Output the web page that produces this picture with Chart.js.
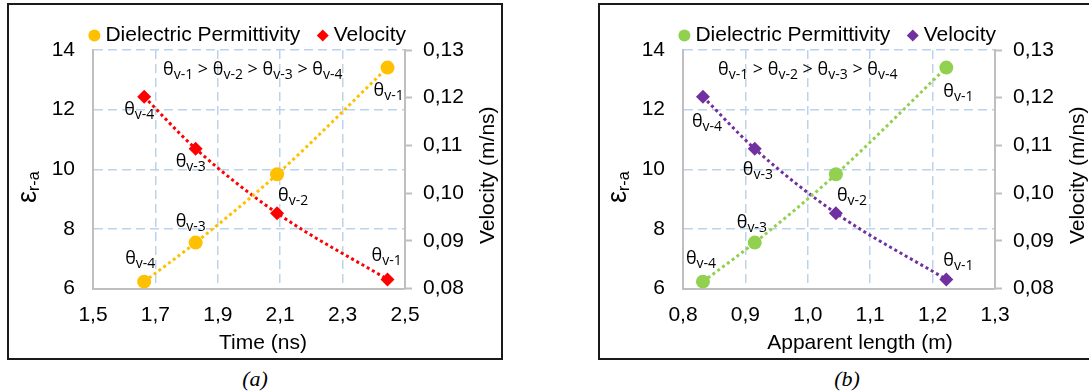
<!DOCTYPE html>
<html>
<head>
<meta charset="utf-8">
<script src="https://cdn.jsdelivr.net/npm/chart.js@4.4.1/dist/chart.umd.min.js"></script>
<style>
  html, body { margin: 0; padding: 0; background: #fff; }
  body { width: 1089px; height: 391px; overflow: hidden; position: relative; }
  .frame { position: absolute; box-sizing: border-box; border: 2px solid #1a1a1a; }
  canvas { position: absolute; }
  .cap { position: absolute; font: italic 22px "Liberation Serif", "DejaVu Serif", serif; color: #000;
         transform: translateX(-50%); white-space: nowrap; }
</style>
</head>
<body>
<div class="frame" style="left:7px;top:3px;width:496px;height:357px"></div>
<div class="frame" style="left:598px;top:3px;width:496px;height:357px"></div>
<canvas id="chartA" width="490" height="354" style="left:10px;top:3px"></canvas>
<canvas id="chartB" width="490" height="354" style="left:600px;top:3px"></canvas>
<div class="cap" style="left:255px;top:366px">(a)</div>
<div class="cap" style="left:847px;top:366px">(b)</div>

<script>
// ---- data (points ordered θv-4, θv-3, θv-2, θv-1) ----
const thetaSubs    = ['v-4', 'v-3', 'v-2', 'v-1'];
const timeNs       = [1.664, 1.829, 2.090, 2.444];
const lengthM      = [0.832, 0.915, 1.045, 1.222];
const permittivity = [6.23, 7.54, 9.83, 13.41];
const velocity     = [0.1202, 0.1093, 0.0958, 0.0819];

// ---- axis ticks ----
const timeTicks      = [1.5, 1.7, 1.9, 2.1, 2.3, 2.5];
const timeTickText   = ['1,5', '1,7', '1,9', '2,1', '2,3', '2,5'];
const lengthTicks    = [0.8, 0.9, 1.0, 1.1, 1.2, 1.3];
const lengthTickText = ['0,8', '0,9', '1,0', '1,1', '1,2', '1,3'];
const epsTicks       = [6, 8, 10, 12, 14];
const epsTickText    = ['6', '8', '10', '12', '14'];
const velTicks       = [0.08, 0.09, 0.10, 0.11, 0.12, 0.13];
const velTickText    = ['0,08', '0,09', '0,10', '0,11', '0,12', '0,13'];

const SANS = '"Liberation Sans", Arial, sans-serif';
const LABEL_FONT = '"Open Sans", "Noto Sans", sans-serif';
const GRID_BLUE = '#bcd3ec';
const AXIS_GRAY = '#bfbfbf';

function drawTheta(ctx, x, y, sub) {
  ctx.font = '18px ' + LABEL_FONT;
  ctx.textAlign = 'left';
  ctx.textBaseline = 'alphabetic';
  ctx.fillText('θ', x, y);
  const w = ctx.measureText('θ').width;
  ctx.font = '14px ' + LABEL_FONT;
  ctx.fillText(sub, x + w, y + 4);
  return x + w + ctx.measureText(sub).width;
}

// text drawn around the plot: point labels, ordering note, axis titles
const annotate = {
  id: 'annotate',
  afterDraw(chart, args, o) {
    const ctx = chart.ctx, a = chart.chartArea;
    ctx.save();
    ctx.fillStyle = '#000';

    o.pointLabels.forEach(pl => {
      const el = chart.getDatasetMeta(pl.ds).data[pl.i];
      drawTheta(ctx, el.x + pl.dx, el.y + pl.dy, thetaSubs[pl.i]);
    });

    // θv-1 > θv-2 > θv-3 > θv-4
    let x = a.left + o.noteDx;
    const y = a.top + 25;
    const order = thetaSubs.slice().reverse();
    order.forEach((s, k) => {
      x = drawTheta(ctx, x, y, s);
      if (k < order.length - 1) {
        ctx.font = '18px ' + LABEL_FONT;
        ctx.fillText(' > ', x, y);
        x += ctx.measureText(' > ').width;
      }
    });

    // bottom title
    ctx.font = '21px ' + SANS;
    ctx.textAlign = 'center';
    ctx.textBaseline = 'middle';
    ctx.fillText(o.xTitle, (a.left + a.right) / 2 + o.xTitleDx, a.bottom + 54.5);

    // left title ε r-a (rotated)
    ctx.save();
    ctx.translate(a.left - 57, a.top + 153);
    ctx.rotate(-Math.PI / 2);
    ctx.textAlign = 'left';
    ctx.textBaseline = 'alphabetic';
    ctx.font = '27px ' + SANS;
    ctx.fillText('ε', 0, 0);
    const ew = ctx.measureText('ε').width;
    ctx.font = '16px ' + SANS;
    ctx.fillText('r-a', ew, 3);
    ctx.restore();

    // right title
    ctx.save();
    ctx.translate(a.right + 83, (a.top + a.bottom) / 2 + 6);
    ctx.rotate(-Math.PI / 2);
    ctx.font = '21px ' + SANS;
    ctx.textAlign = 'center';
    ctx.textBaseline = 'middle';
    ctx.fillText('Velocity (m/ns)', 0, 0);
    ctx.restore();

    ctx.restore();
  }
};

function setTicks(values) {
  return scale => { scale.ticks = values.map(v => ({ value: v })); };
}
function edgeHidden(n) {
  return c => (c.index === 0 || c.index === n - 1) ? 'rgba(0,0,0,0)' : GRID_BLUE;
}

function makeChart(id, cfg) {
  const pts = (xs, ys) => xs.map((v, i) => ({ x: v, y: ys[i] }));
  const lineStyle = {
    showLine: true, borderWidth: 3, borderDash: [3, 3],
    cubicInterpolationMode: 'monotone', pointBorderWidth: 0, pointHoverRadius: 0
  };
  return new Chart(document.getElementById(id), {
    type: 'scatter',
    data: {
      datasets: [
        Object.assign({
          label: 'Dielectric Permittivity', data: pts(cfg.xs, permittivity), yAxisID: 'y',
          borderColor: cfg.epsColor, backgroundColor: cfg.epsColor,
          pointStyle: 'circle', pointRadius: 7
        }, lineStyle),
        Object.assign({
          label: 'Velocity', data: pts(cfg.xs, velocity), yAxisID: 'y1',
          borderColor: cfg.velColor, backgroundColor: cfg.velColor,
          pointStyle: 'rectRot', pointRadius: 7
        }, lineStyle)
      ]
    },
    options: {
      responsive: false, animation: false, devicePixelRatio: 1,
      layout: { padding: { left: 0, right: 10, top: 0, bottom: 0 } },
      plugins: {
        tooltip: { enabled: false },
        legend: {
          position: 'top', align: 'center', maxHeight: 47,
          labels: {
            usePointStyle: true, boxWidth: 1, boxHeight: 8.5, padding: 22,
            color: '#000', font: { family: SANS, size: 21 },
            sort: (p, q) => p.datasetIndex - q.datasetIndex
          }
        },
        annotate: {
          xTitle: cfg.xTitle, xTitleDx: cfg.xTitleDx, noteDx: cfg.noteDx,
          pointLabels: cfg.pointLabels
        }
      },
      scales: {
        x: {
          type: 'linear', position: 'bottom', min: cfg.ticks[0], max: cfg.ticks[cfg.ticks.length - 1],
          afterBuildTicks: setTicks(cfg.ticks),
          afterFit: s => { s.height = 68.5; },
          ticks: { padding: 14, color: '#000', font: { family: SANS, size: 21 },
                   callback: (v, i) => cfg.tickText[i] },
          grid: { color: edgeHidden(cfg.ticks.length), lineWidth: 1.5, drawTicks: false },
          border: { display: true, color: AXIS_GRAY, width: 2, dash: [9, 5] }
        },
        y: {
          position: 'left', min: 6, max: 14,
          afterBuildTicks: setTicks(epsTicks),
          afterFit: s => { s.width = 83; },
          ticks: { padding: 18, color: '#000', font: { family: SANS, size: 21 },
                   callback: (v, i) => epsTickText[i] },
          grid: { color: c => c.index === 0 ? 'rgba(0,0,0,0)' : GRID_BLUE, lineWidth: 1.5, drawTicks: false },
          border: { display: true, color: AXIS_GRAY, width: 2, dash: [9, 5] }
        },
        y1: {
          position: 'right', min: 0.08, max: 0.13,
          afterBuildTicks: setTicks(velTicks),
          afterFit: s => { s.width = 85; },
          ticks: { padding: 11, color: '#000', font: { family: SANS, size: 21 },
                   callback: (v, i) => velTickText[i] },
          grid: { drawOnChartArea: false, drawTicks: true, tickLength: 7,
                  tickColor: AXIS_GRAY, tickWidth: 2, color: AXIS_GRAY },
          border: { display: true, color: AXIS_GRAY, width: 2 }
        }
      }
    },
    plugins: [annotate]
  });
}

makeChart('chartA', {
  xs: timeNs, ticks: timeTicks, tickText: timeTickText,
  epsColor: '#ffc000', velColor: '#ff0000',
  xTitle: 'Time (ns)', xTitleDx: 14, noteDx: 70,
  pointLabels: [
    { ds: 0, i: 0, dx: -19, dy: -18 }, { ds: 0, i: 1, dx: -20, dy: -16 },
    { ds: 0, i: 2, dx: 1, dy: 27 },   { ds: 0, i: 3, dx: -14, dy: 28 },
    { ds: 1, i: 0, dx: -20, dy: 18 }, { ds: 1, i: 1, dx: -20, dy: 18 },
    { ds: 1, i: 3, dx: -16, dy: -18 }
  ]
});

makeChart('chartB', {
  xs: lengthM, ticks: lengthTicks, tickText: lengthTickText,
  epsColor: '#92d050', velColor: '#7030a0',
  xTitle: 'Apparent length (m)', xTitleDx: 21, noteDx: 35,
  pointLabels: [
    { ds: 0, i: 0, dx: -17, dy: -18 }, { ds: 0, i: 1, dx: -18, dy: -15 },
    { ds: 0, i: 2, dx: 1, dy: 27 },   { ds: 0, i: 3, dx: -3, dy: 29 },
    { ds: 1, i: 0, dx: -11, dy: 30 }, { ds: 1, i: 1, dx: -12, dy: 26 },
    { ds: 1, i: 3, dx: -3, dy: -13 }
  ]
});
</script>
</body>
</html>
